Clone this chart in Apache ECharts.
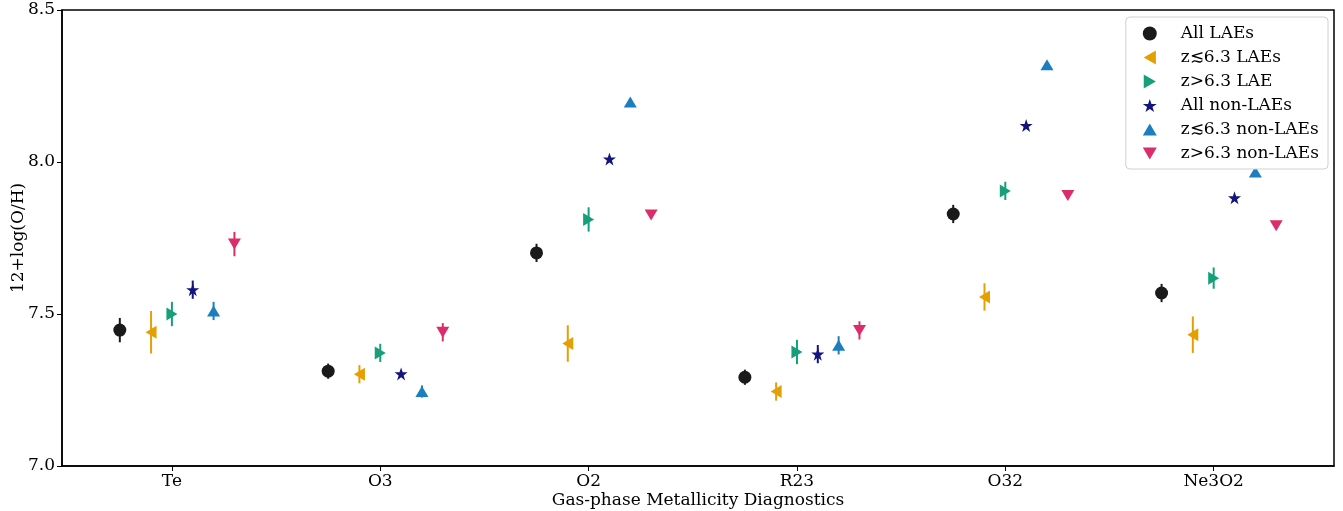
<!DOCTYPE html>
<html>
<head>
<meta charset="utf-8">
<script src="https://cdn.jsdelivr.net/npm/echarts@6/dist/echarts.min.js"></script>
<style>
  html, body { margin: 0; padding: 0; background: #fff; }
  #chart { width: 1343px; height: 511px; }
</style>
</head>
<body>
<div id="chart"></div>
<script>
// Diagnostics along the x axis
const categories = ['Te', 'O3', 'O2', 'R23', 'O32', 'Ne3O2'];
const yTicks = [7.0, 7.5, 8.0, 8.5];

// 12+log(O/H) per diagnostic, with symmetric 1-sigma errors
const allLAEs        = [7.447, 7.312, 7.701, 7.292, 7.829, 7.569];
const allLAEsErr     = [0.040, 0.025, 0.030, 0.025, 0.030, 0.030];
const lowzLAEs       = [7.440, 7.302, 7.403, 7.245, 7.556, 7.432];
const lowzLAEsErr    = [0.070, 0.030, 0.060, 0.030, 0.045, 0.060];
const highzLAE       = [7.500, 7.372, 7.811, 7.375, 7.905, 7.618];
const highzLAEErr    = [0.040, 0.030, 0.040, 0.040, 0.030, 0.035];
const allNonLAEs     = [7.580, 7.303, 8.010, 7.368, 8.120, 7.882];
const allNonLAEsErr  = [0.030, 0.010, 0.010, 0.030, 0.010, 0.010];
const lowzNonLAEs    = [7.510, 7.245, 8.197, 7.397, 8.320, 7.967];
const lowzNonLAEsErr = [0.030, 0.020, 0.010, 0.030, 0.010, 0.010];
const highzNonLAEs   = [7.730, 7.440, 7.826, 7.446, 7.890, 7.790];
const highzNonLAEsErr= [0.040, 0.030, 0.010, 0.030, 0.010, 0.010];

const FONT = 'DejaVu Serif';

const triLeft  = 'path://M0,5 L8.66,0 L8.66,10 Z';
const triRight = 'path://M8.66,5 L0,0 L0,10 Z';
const triUp    = 'path://M5,0 L10,8.66 L0,8.66 Z';
const triDown  = 'path://M5,8.66 L10,0 L0,0 Z';
const star     = 'path://M50,0 L61.8,35.4 L99,35.4 L69,57.3 L80.3,92.7 L50,70.8 L19.7,92.7 L31,57.3 L1,35.4 L38.2,35.4 Z';

const groups = [
  { name: 'All LAEs',          vals: allLAEs,      errs: allLAEsErr,      shift: -0.25, color: '#1a1a1a', symbol: 'circle', size: 13 },
  { name: 'z≲6.3 LAEs',        vals: lowzLAEs,     errs: lowzLAEsErr,     shift: -0.10, color: '#E69F00', symbol: triLeft,  size: [11, 13] },
  { name: 'z>6.3 LAE',         vals: highzLAE,     errs: highzLAEErr,     shift:  0.00, color: '#16A07A', symbol: triRight, size: [11, 13] },
  { name: 'All non-LAEs',      vals: allNonLAEs,   errs: allNonLAEsErr,   shift:  0.10, color: '#14147F', symbol: star,     size: 13 },
  { name: 'z≲6.3 non-LAEs',    vals: lowzNonLAEs,  errs: lowzNonLAEsErr,  shift:  0.20, color: '#1A7EBF', symbol: triUp,    size: [13, 11] },
  { name: 'z>6.3 non-LAEs',    vals: highzNonLAEs, errs: highzNonLAEsErr, shift:  0.30, color: '#DB2D6B', symbol: triDown,  size: [13, 11] }
];

const series = [];
groups.forEach(g => {
  const errData = g.vals.map((v, i) => [i + g.shift, v - g.errs[i], v + g.errs[i]]);
  series.push({
    type: 'custom',
    name: g.name + ' error',
    z: 2,
    silent: true,
    data: errData,
    encode: { x: 0, y: [1, 2] },
    renderItem: (params, api) => {
      const p0 = api.coord([api.value(0), api.value(1)]);
      const p1 = api.coord([api.value(0), api.value(2)]);
      return {
        type: 'line',
        shape: { x1: p0[0], y1: p0[1], x2: p1[0], y2: p1[1] },
        style: { stroke: g.color, lineWidth: 2 }
      };
    }
  });
  series.push({
    type: 'scatter',
    name: g.name,
    z: 3,
    symbol: g.symbol,
    symbolSize: g.size,
    itemStyle: { color: g.color, opacity: 1 },
    data: g.vals.map((v, i) => [i + g.shift, v])
  });
});

const chart = echarts.init(document.getElementById('chart'), null, { renderer: 'canvas' });
chart.setOption({
  animation: false,
  backgroundColor: '#fff',
  textStyle: { fontFamily: FONT },
  grid: {
    left: 62, right: 9, top: 10, bottom: 45,
    containLabel: false,
    outerBoundsMode: 'none',
    show: true, borderColor: '#000', borderWidth: 1.5
  },
  legend: {
    data: groups.map(g => ({ name: g.name, icon: g.symbol === 'circle' ? 'circle' : g.symbol })),
    orient: 'vertical',
    right: 15,
    top: 17,
    itemWidth: 14,
    itemHeight: 14,
    itemGap: 7,
    padding: [8, 9, 7, 17],
    backgroundColor: '#fff',
    borderColor: '#d0d0d0',
    borderWidth: 1,
    borderRadius: 4,
    textStyle: { fontFamily: FONT, fontSize: 17, lineHeight: 14, color: '#000', padding: [0, 0, 0, 19] }
  },
  xAxis: {
    type: 'value',
    min: -0.5275,
    max: 5.5775,
    name: 'Gas-phase Metallicity Diagnostics',
    nameLocation: 'middle',
    nameGap: 26,
    nameMoveOverlap: false,
    nameTextStyle: { fontFamily: FONT, fontSize: 17, color: '#000' },
    axisLine: { show: true, onZero: false, lineStyle: { color: '#000', width: 1.5 } },
    axisTick: { show: true, length: 5, lineStyle: { color: '#000', width: 1 }, customValues: categories.map((c, i) => i) },
    axisLabel: {
      fontFamily: FONT, fontSize: 17, color: '#000', margin: 7,
      customValues: categories.map((c, i) => i),
      formatter: v => categories[Math.round(v)] ?? ''
    },
    splitLine: { show: false }
  },
  yAxis: {
    type: 'value',
    min: yTicks[0],
    max: yTicks[yTicks.length - 1],
    interval: 0.5,
    name: '12+log(O/H)',
    nameLocation: 'middle',
    nameGap: 35,
    nameMoveOverlap: false,
    nameTextStyle: { fontFamily: FONT, fontSize: 17, color: '#000' },
    axisLine: { show: true, onZero: false, lineStyle: { color: '#000', width: 1.5 } },
    axisTick: { show: true, length: 5, lineStyle: { color: '#000', width: 1 } },
    axisLabel: { fontFamily: FONT, fontSize: 17, color: '#000', margin: 7, formatter: v => v.toFixed(1) },
    splitLine: { show: false }
  },
  series: series
});
</script>
</body>
</html>
